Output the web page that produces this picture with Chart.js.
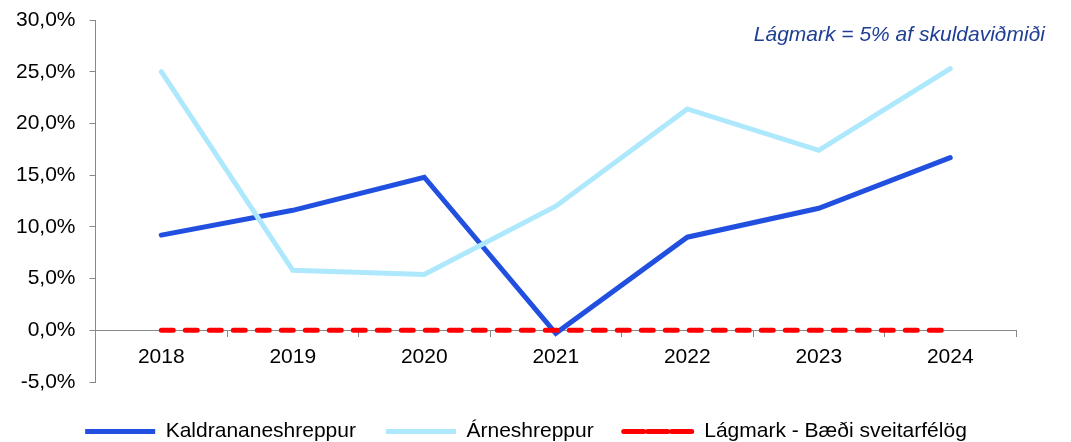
<!DOCTYPE html>
<html>
<head>
<meta charset="utf-8">
<script src="https://cdn.jsdelivr.net/npm/chart.js@4"></script>
<style>
  html, body { margin: 0; padding: 0; background: #fff; }
  #wrap { width: 1071px; height: 442px; }
</style>
</head>
<body>
<div id="wrap"><canvas id="chart"></canvas></div>
<script>
const years = ['2018', '2019', '2020', '2021', '2022', '2023', '2024']
const kaldrananeshreppur = [9.2, 11.6, 14.8, -0.3, 9.0, 11.8, 16.7]
const arneshreppur = [25.0, 5.8, 5.4, 12.0, 21.4, 17.4, 25.3]
const lagmark = [0, 0, 0, 0, 0, 0, 0]
const seriesNames = ['Kaldrananeshreppur', 'Árneshreppur', 'Lágmark - Bæði sveitarfélög']
const noteText = 'Lágmark = 5% af skuldaviðmiði'

const font = 'Liberation Sans, Arial, sans-serif'

const Utils = {
  formatPercent(value) {
    return value.toFixed(1).replace('.', ',') + '%'
  }
}

const notePlugin = {
  id: 'note',
  afterLayout(chart) {
    // legend sits a bit right of center and lower in the original
    chart.legend.left += 17
    chart.legend.right += 17
    chart.legend.top += 9
    chart.legend.bottom += 9
  },
  afterDraw(chart) {
    const ctx = chart.ctx
    ctx.save()
    ctx.font = 'italic 21px ' + font
    ctx.fillStyle = '#1f3f94'
    ctx.textAlign = 'right'
    ctx.textBaseline = 'middle'
    ctx.fillText(noteText, 1045, 35)
    ctx.restore()
  }
}

new Chart(document.getElementById('chart'), {
  type: 'line',
  data: {
    labels: years,
    datasets: [
      {
        label: seriesNames[0],
        data: kaldrananeshreppur,
        borderColor: '#2150e0',
        backgroundColor: '#2150e0',
        borderWidth: 5,
        order: 2
      },
      {
        label: seriesNames[1],
        data: arneshreppur,
        borderColor: '#aee8fc',
        backgroundColor: '#aee8fc',
        borderWidth: 5,
        order: 1
      },
      {
        label: seriesNames[2],
        data: lagmark,
        borderColor: '#ff0000',
        backgroundColor: '#ff0000',
        borderWidth: 5,
        borderDash: [12, 12],
        order: 0
      }
    ]
  },
  options: {
    responsive: true,
    maintainAspectRatio: false,
    animation: false,
    elements: {
      point: { radius: 0, hoverRadius: 0 },
      line: { tension: 0, borderCapStyle: 'round', borderJoinStyle: 'miter', fill: false }
    },
    layout: { padding: { left: 2, right: 55, top: 20, bottom: -1 } },
    plugins: {
      tooltip: { enabled: false },
      legend: {
        position: 'bottom',
        labels: {
          boxWidth: 70,
          boxHeight: 0,
          padding: 30,
          color: '#000',
          font: { family: font, size: 21 },
          sort: (a, b) => a.datasetIndex - b.datasetIndex
        }
      }
    },
    scales: {
      x: {
        position: { y: 0 },
        offset: true,
        grid: { offset: true, drawOnChartArea: false, drawTicks: true, tickLength: 6, color: '#888' },
        border: { color: '#888', width: 1 },
        ticks: { color: '#000', padding: 8, font: { family: font, size: 21 } }
      },
      y: {
        min: -5,
        max: 30,
        afterFit(scale) {
          scale.paddingTop = 0
        },
        grid: { drawOnChartArea: false, drawTicks: true, tickLength: 6, color: '#888' },
        border: { color: '#888', width: 1 },
        ticks: {
          stepSize: 5,
          padding: 14,
          color: '#000',
          font: { family: font, size: 21 },
          callback: value => Utils.formatPercent(value)
        }
      }
    }
  },
  plugins: [notePlugin]
})
</script>
</body>
</html>
